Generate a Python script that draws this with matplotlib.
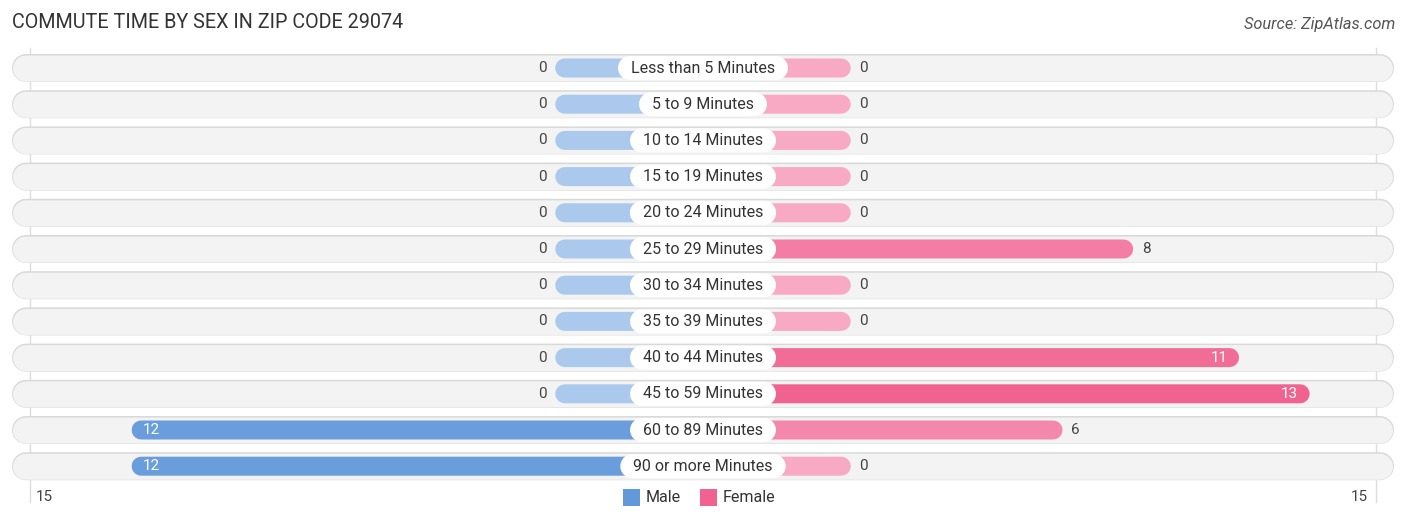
import numpy as np
import matplotlib.pyplot as plt
from matplotlib.colors import to_rgb
from matplotlib.patches import Rectangle

plt.rcParams['font.family'] = ['Roboto', 'DejaVu Sans']

categories = ["Less than 5 Minutes", "5 to 9 Minutes", "10 to 14 Minutes",
              "15 to 19 Minutes", "20 to 24 Minutes", "25 to 29 Minutes",
              "30 to 34 Minutes", "35 to 39 Minutes", "40 to 44 Minutes",
              "45 to 59 Minutes", "60 to 89 Minutes", "90 or more Minutes"]
male = [0, 0, 0, 0, 0, 0, 0, 0, 0, 0, 12, 12]
female = [0, 0, 0, 0, 0, 8, 0, 0, 11, 13, 6, 0]
axis_max = 15

title = "COMMUTE TIME BY SEX IN ZIP CODE 29074"
source = "Source: ZipAtlas.com"

# layout (pixels -> data units)
W, H = 1406, 523
cx = 703
ppu = 35.3          # pixels per unit
stub = 4.2          # minimum bar length (units) so zero bars still show
row0, step = 68, 36.2


def pt(px):
    return px * 0.72


def blend(c0, c1, t):
    a, b = np.array(to_rgb(c0)), np.array(to_rgb(c1))
    return tuple(a + (b - a) * t)


fig = plt.figure(figsize=(W / 100, H / 100), dpi=100)
ax = fig.add_axes([0, 0, 1, 1])
ax.set_xlim(-cx / ppu, (W - cx) / ppu)
ax.set_ylim((H - row0) / step, -row0 / step)
ax.axis('off')

# faint grid lines at the axis ends
edge = 673 / ppu
for s in (-1, 1):
    ax.plot([s * edge, s * edge], [-0.55, 12.0], color='#dddddd', lw=1, zorder=0)

bg_half = (1393 - cx) / ppu - 13 / ppu
r = 10 / ppu
vmax = max(max(male), max(female))

labels = []
for i, cat in enumerate(categories):
    ax.plot([-bg_half, bg_half], [i, i], color='#d9d9d9', lw=pt(28),
            solid_capstyle='round', zorder=1, snap=False)
    ax.plot([-bg_half, bg_half], [i + 0.015, i + 0.015], color='#f3f3f3', lw=pt(26),
            solid_capstyle='round', zorder=1, snap=False)

    m, f = male[i], female[i]
    mc = blend('#abc9ec', '#6399db', m / vmax)
    fc = blend('#f8a9c4', '#f06290', f / vmax)
    ax.plot([-(stub + m) + r, 0], [i, i], color=mc, lw=pt(19),
            solid_capstyle='round', zorder=2, snap=False)
    ax.plot([0, (stub + f) - r], [i, i], color=fc, lw=pt(19),
            solid_capstyle='round', zorder=2, snap=False)

    labels.append(ax.text(0, i, cat, ha='center', va='center', fontsize=11.5,
                          color='#333333', zorder=5))

    if m > 10:
        ax.text(-(stub + m) + 12 / ppu, i, str(m), ha='left', va='center',
                fontsize=11, color='white', zorder=3)
    else:
        ax.text(-(stub + m) - 8 / ppu, i, str(m), ha='right', va='center',
                fontsize=11, color='#444444', zorder=3)
    if f > 10:
        ax.text((stub + f) - 12 / ppu, i, str(f), ha='right', va='center',
                fontsize=11, color='white', zorder=3)
    else:
        ax.text((stub + f) + 8 / ppu, i, str(f), ha='left', va='center',
                fontsize=11, color='#444444', zorder=3)

# white pill behind each category label, sized to the text
fig.canvas.draw()
rend = fig.canvas.get_renderer()
inv = ax.transData.inverted()
for i, t in enumerate(labels):
    bb = t.get_window_extent(rend)
    x0 = inv.transform((bb.x0 - 1, 0))[0]
    x1 = inv.transform((bb.x1 + 1, 0))[0]
    ax.plot([x0, x1], [i, i], color='white', lw=pt(24),
            solid_capstyle='round', zorder=4, snap=False)

# axis end labels
ty = (497 - row0) / step
ax.text(-edge + 6 / ppu, ty, str(axis_max), ha='left', va='center',
        fontsize=11, color='#444444')
ax.text(edge - 8 / ppu, ty, str(axis_max), ha='right', va='center',
        fontsize=11, color='#444444')

# legend
sq = 17
for x0, lab, col in ((623, "Male", '#6399db'), (700, "Female", '#f06290')):
    ax.add_patch(Rectangle(((x0 - cx) / ppu, (489 - row0) / step), sq / ppu, sq / step,
                           fc=col, ec='none'))
    ax.text((x0 + sq + 6 - cx) / ppu, ty, lab, ha='left', va='center',
            fontsize=11.5, color='#333333')

fig.text(12 / W, 1 - 22 / H, title, ha='left', va='center', fontsize=14.2,
         color='#333333')
fig.text(1395 / W, 1 - 24 / H, source, ha='right', va='center', fontsize=11.8,
         style='italic', color='#555555')

fig.savefig('out.png', dpi=100)
